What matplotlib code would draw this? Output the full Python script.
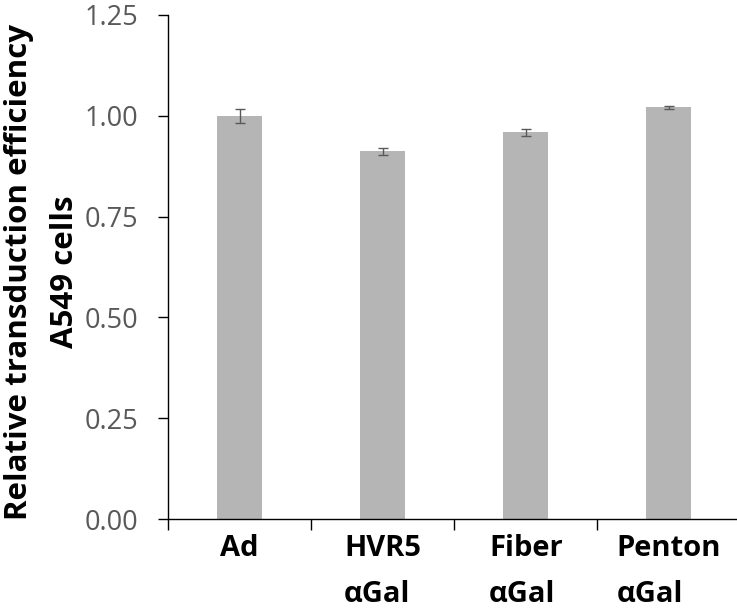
import matplotlib
matplotlib.use("Agg")
import matplotlib.pyplot as plt
import numpy as np

categories = ["Ad", "HVR5\nαGal", "Fiber\nαGal", "Penton\nαGal"]
values = [1.00, 0.912, 0.959, 1.021]
errors = [0.018, 0.008, 0.009, 0.003]
yticks = [0.00, 0.25, 0.50, 0.75, 1.00, 1.25]
ytick_labels = ["0.00", "0.25", "0.50", "0.75", "1.00", "1.25"]

plt.rcParams['font.family'] = ['Open Sans', 'DejaVu Sans']

W, H = 737, 610
fig = plt.figure(figsize=(W / 100, H / 100), dpi=100)
ax_left, ax_bottom, ax_w, ax_h = 168, 519, 572.5, 504
ax = fig.add_axes([ax_left / W, 1 - ax_bottom / H, ax_w / W, ax_h / H])

x = np.arange(len(categories))
ax.bar(x, values, width=0.315, color="#B4B5B4", zorder=2)
ax.errorbar(x, values, yerr=errors, fmt='none', ecolor="#595959",
            elinewidth=1.0, capsize=3.5, capthick=1.0, zorder=3)

ax.set_xlim(-0.5, len(categories) - 0.5)
ax.set_ylim(0, 1.25)
ax.set_yticks(yticks)
ax.set_yticklabels(ytick_labels, fontsize=19.5, color="#595959")
ax.tick_params(axis='y', direction='out', length=7.2, width=1, color="#000000", pad=14)

ax.set_xticks(x)
ax.set_xticklabels(categories, fontsize=21, fontweight='bold', color='black',
                   multialignment='left', linespacing=1.78)
ax.tick_params(axis='x', which='major', length=0, pad=11)
ax.set_xticks(np.arange(-0.5, len(categories), 1.0), minor=True)
ax.tick_params(axis='x', which='minor', direction='out', length=8, width=1, color="#000000")

for s in ['top', 'right']:
    ax.spines[s].set_visible(False)
for s in ['left', 'bottom']:
    ax.spines[s].set_color("#000000")
    ax.spines[s].set_linewidth(1.0)

ax.set_ylabel("Relative transduction efficiency\nA549 cells", fontsize=22.5,
              fontweight='bold', linespacing=1.7)
ax.yaxis.set_label_coords((80 - ax_left) / ax_w, (ax_bottom - 272) / ax_h)

fig.savefig("out.png", dpi=100)
